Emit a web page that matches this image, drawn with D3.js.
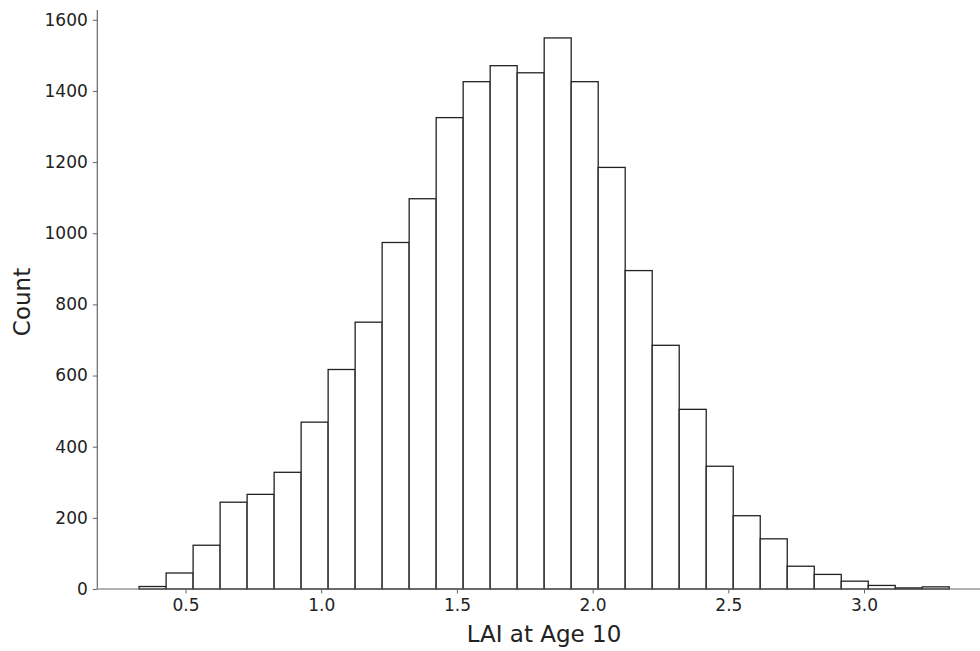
<!DOCTYPE html>
<html>
<head>
<meta charset="utf-8">
<script src="https://cdn.jsdelivr.net/npm/d3@7"></script>
<style>
  body { margin: 0; background: #fff; }
  svg { display: block; font-family: "DejaVu Sans", sans-serif; }
</style>
</head>
<body>
<svg id="chart" width="980" height="651"></svg>
<script>
// histogram of LAI at age 10, 30 bins
var binStart = 0.329;
var binWidth = 0.0995;
var counts = [7, 45, 123, 244, 266, 328, 469, 617, 750, 974,
              1097, 1325, 1426, 1471, 1451, 1549, 1426, 1185, 895, 685,
              505, 345, 206, 141, 64, 41, 22, 10, 3, 6];
var xTicks = [0.5, 1.0, 1.5, 2.0, 2.5, 3.0];
var yTicks = [0, 200, 400, 600, 800, 1000, 1200, 1400, 1600];

var svg = d3.select("#chart");

var x = d3.scaleLinear().domain([0.175, 3.46]).range([97.3, 988.9]);
var y = d3.scaleLinear().domain([0, 1627.5]).range([589, 10]);

var bins = counts.map(function (c, i) {
  return { x0: binStart + i * binWidth, x1: binStart + (i + 1) * binWidth, n: c };
});

svg.append("g").selectAll("rect")
  .data(bins)
  .enter()
  .append("rect")
  .attr("x", function (d) { return x(d.x0); })
  .attr("y", function (d) { return y(d.n); })
  .attr("width", function (d) { return x(d.x1) - x(d.x0); })
  .attr("height", function (d) { return y(0) - y(d.n); })
  .attr("fill", "#fff")
  .attr("stroke", "#222")
  .attr("stroke-width", 1.3);

// x axis
var xAxis = svg.append("g")
  .attr("transform", "translate(0," + y(0) + ")")
  .call(d3.axisBottom(x).tickValues(xTicks).tickFormat(d3.format(".1f")).tickSize(4.5).tickPadding(5));

// y axis
var yAxis = svg.append("g")
  .attr("transform", "translate(" + x.range()[0] + ",0)")
  .call(d3.axisLeft(y).tickValues(yTicks).tickFormat(d3.format("d")).tickSize(4.5).tickPadding(5));

[xAxis, yAxis].forEach(function (g) {
  g.select(".domain").attr("stroke", "#666").attr("stroke-width", 1.2);
  g.selectAll(".tick line").attr("stroke", "#666").attr("stroke-width", 1);
  g.selectAll(".tick text").attr("fill", "#222").style("font-size", "17px")
    .style("font-family", "'DejaVu Sans', sans-serif");
});
// flat spines, no outer ticks
xAxis.select(".domain").attr("d", "M" + x.range()[0] + ",0H" + x.range()[1]);
yAxis.select(".domain").attr("d", "M0," + y.range()[1] + "V" + y.range()[0]);

svg.append("text")
  .attr("x", 544)
  .attr("y", 642)
  .attr("text-anchor", "middle")
  .attr("fill", "#222")
  .style("font-size", "23px")
  .text("LAI at Age 10");

svg.append("text")
  .attr("transform", "translate(30,302) rotate(-90)")
  .attr("text-anchor", "middle")
  .attr("fill", "#222")
  .style("font-size", "23px")
  .text("Count");
</script>
</body>
</html>
